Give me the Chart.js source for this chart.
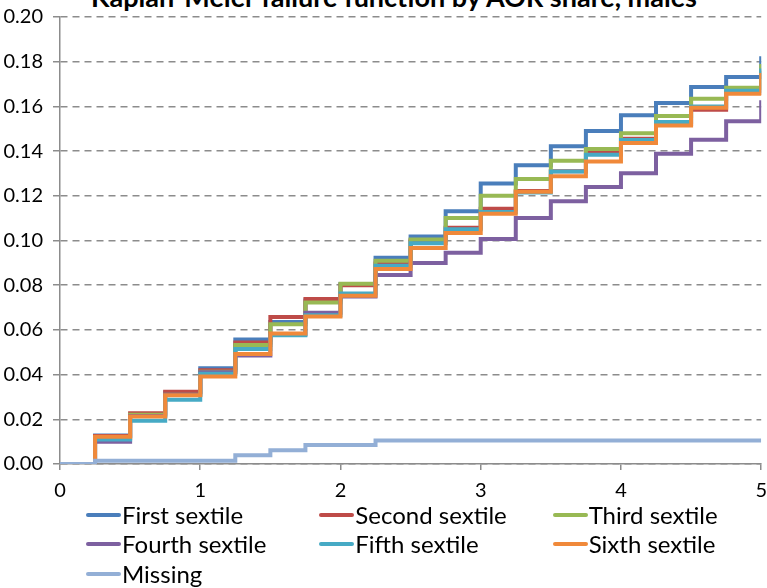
<!DOCTYPE html>
<html>
<head>
<meta charset="utf-8">
<script src="https://cdn.jsdelivr.net/npm/chart.js@4/dist/chart.umd.min.js"></script>
<style>
  html, body { margin: 0; padding: 0; background: #fff; overflow: hidden; }
  body { width: 767px; height: 588px; position: relative; font-family: Lato, "Open Sans", sans-serif; }
  #title {
    position: absolute; left: 0; top: -17px; width: 788px; text-align: center;
    font: bold 27px/27px Lato, sans-serif; color: #000; white-space: nowrap;
  }
  #wrap { position: absolute; left: 0; top: 0; width: 776px; height: 512px; }
  #legend { position: absolute; left: 86px; top: 500px; width: 700px; }
  .row { display: flex; height: 29.5px; align-items: center; }
  .item { display: flex; align-items: center; width: 235px; font: 24px/24px Lato, sans-serif; color: #000; }
  .swatch { display: inline-block; width: 35px; height: 4px; margin-right: 1px; border-radius: 2px; }
</style>
</head>
<body>
<div id="title">Kaplan-Meier failure function by AOR share, males</div>
<div id="wrap"><canvas id="chart"></canvas></div>
<div id="legend"></div>
<script>
// Analysis time in years (step start points)
const years = [0, 0.25, 0.5, 0.75, 1, 1.25, 1.5, 1.75, 2, 2.25, 2.5, 2.75, 3,
               3.25, 3.5, 3.75, 4, 4.25, 4.5, 4.75, 5];

// Cumulative failure probability at each step
const firstSextile  = [0, 0.0128, 0.0222, 0.0320, 0.0428, 0.0557, 0.0635, 0.0732, 0.0805, 0.0923, 0.1018,
                       0.1131, 0.1255, 0.1337, 0.1422, 0.1490, 0.1560, 0.1615, 0.1687, 0.1731, 0.1824];
const secondSextile = [0, 0.0125, 0.0227, 0.0323, 0.0420, 0.0544, 0.0658, 0.0738, 0.0800, 0.0897, 0.1000,
                       0.1057, 0.1142, 0.1222, 0.1310, 0.1399, 0.1455, 0.1520, 0.1585, 0.1660, 0.1760];
const thirdSextile  = [0, 0.0116, 0.0220, 0.0310, 0.0413, 0.0532, 0.0625, 0.0723, 0.0807, 0.0909, 0.1005,
                       0.1101, 0.1200, 0.1275, 0.1357, 0.1409, 0.1480, 0.1557, 0.1634, 0.1684, 0.1790];
const fourthSextile = [0, 0.0099, 0.0215, 0.0310, 0.0410, 0.0485, 0.0580, 0.0677, 0.0750, 0.0846, 0.0899,
                       0.0945, 0.1007, 0.1101, 0.1176, 0.1239, 0.1301, 0.1388, 0.1451, 0.1534, 0.1627];
const fifthSextile  = [0, 0.0110, 0.0194, 0.0288, 0.0404, 0.0515, 0.0576, 0.0665, 0.0763, 0.0887, 0.0988,
                       0.1050, 0.1128, 0.1215, 0.1309, 0.1384, 0.1450, 0.1530, 0.1600, 0.1670, 0.1770];
const sixthSextile  = [0, 0.0122, 0.0212, 0.0308, 0.0392, 0.0492, 0.0584, 0.0660, 0.0753, 0.0872, 0.0967,
                       0.1034, 0.1120, 0.1218, 0.1288, 0.1354, 0.1436, 0.1515, 0.1594, 0.1657, 0.1750];
const missingGroup  = [0, 0.0015, 0.0015, 0.0015, 0.0015, 0.0039, 0.0062, 0.0085, 0.0085, 0.0105, 0.0105,
                       0.0105, 0.0105, 0.0105, 0.0105, 0.0105, 0.0105, 0.0105, 0.0105, 0.0105, 0.0105];

const seriesNames  = ['First sextile', 'Second sextile', 'Third sextile', 'Fourth sextile',
                      'Fifth sextile', 'Sixth sextile', 'Missing'];
const seriesValues = [firstSextile, secondSextile, thirdSextile, fourthSextile,
                      fifthSextile, sixthSextile, missingGroup];
const seriesColors = ['#4a7ebb', '#be4b48', '#98b954', '#7d60a0', '#46aac5', '#f0893a', '#93afd6'];

const yTicks = [0, 0.02, 0.04, 0.06, 0.08, 0.10, 0.12, 0.14, 0.16, 0.18, 0.20];
const xTicks = [0, 1, 2, 3, 4, 5];

const tickFont = { family: 'Lato', size: 20 };

const datasets = seriesNames.map((name, i) => ({
  label: name,
  data: years.map((t, k) => ({ x: t, y: seriesValues[i][k] })),
  borderColor: seriesColors[i],
  backgroundColor: seriesColors[i],
  borderWidth: 4,
  pointRadius: 0,
  stepped: 'before',
  fill: false,
  borderJoinStyle: 'miter',
  borderCapStyle: 'butt',
  order: -i   // later series are painted over earlier ones
}));

new Chart(document.getElementById('chart'), {
  type: 'line',
  data: { datasets },
  options: {
    responsive: true,
    maintainAspectRatio: false,
    animation: false,
    layout: { padding: { top: 17, right: 6, left: 0, bottom: 0 } },
    plugins: { legend: { display: false }, title: { display: false }, tooltip: { enabled: false } },
    scales: {
      x: {
        type: 'linear',
        min: 0, max: 5,
        afterBuildTicks: (s) => { s.ticks = xTicks.map(v => ({ value: v })); },
        ticks: { font: tickFont, color: '#000', padding: 9, maxRotation: 0 },
        grid: { drawOnChartArea: false, drawTicks: true, tickLength: 6, color: '#8c8c8c', lineWidth: 1.5 },
        border: { display: true, color: '#8c8c8c', width: 1.5 }
      },
      y: {
        type: 'linear',
        min: 0, max: 0.2,
        afterBuildTicks: (s) => { s.ticks = yTicks.map(v => ({ value: v })); },
        afterFit: (s) => { s.width = 60; s.paddingTop = 0; s.paddingBottom = 0; },
        ticks: { font: tickFont, color: '#000', padding: 10, callback: (v) => Number(v).toFixed(2) },
        grid: { color: '#8c8c8c', lineWidth: 1.5, drawTicks: true, tickLength: 7, tickBorderDash: [] },
        border: { display: true, color: '#8c8c8c', width: 1.5, dash: [7, 5] }
      }
    }
  }
});

// Legend laid out in three columns below the plot
const legend = document.getElementById('legend');
for (let r = 0; r < seriesNames.length; r += 3) {
  const row = document.createElement('div');
  row.className = 'row';
  for (let i = r; i < Math.min(r + 3, seriesNames.length); i++) {
    const item = document.createElement('div');
    item.className = 'item';
    const sw = document.createElement('span');
    sw.className = 'swatch';
    sw.style.background = seriesColors[i];
    const txt = document.createElement('span');
    txt.textContent = seriesNames[i];
    item.appendChild(sw);
    item.appendChild(txt);
    row.appendChild(item);
  }
  legend.appendChild(row);
}
</script>
</body>
</html>
